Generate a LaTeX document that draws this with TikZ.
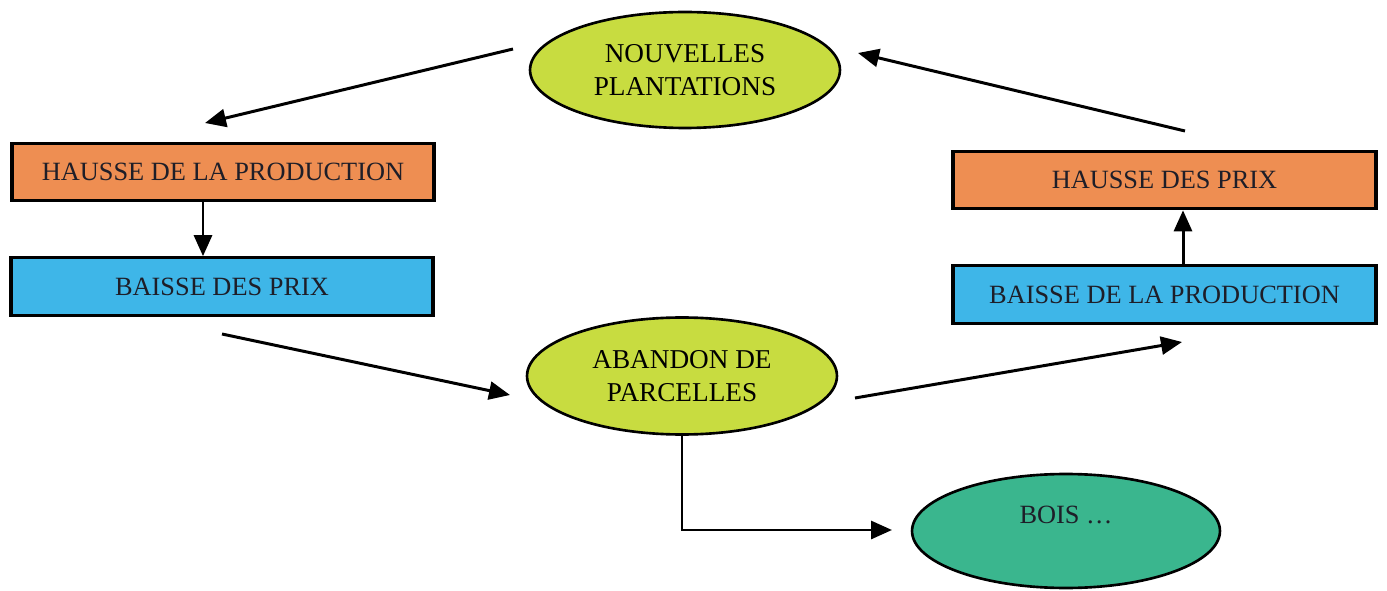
\documentclass[tikz,border=0pt]{standalone}
\usepackage{fontspec}
\setmainfont{Liberation Serif}
\usetikzlibrary{shapes.geometric,arrows.meta}
\definecolor{orangebox}{RGB}{238,142,82}
\definecolor{bluebox}{RGB}{62,182,232}
\definecolor{greenell}{RGB}{200,220,64}
\definecolor{tealell}{RGB}{58,182,142}
\definecolor{inktext}{RGB}{30,30,40}
\tikzset{
  box/.style={draw=black, line width=1.8pt, rectangle, inner sep=0pt,
    minimum width=8.44cm, minimum height=1.15cm, text=inktext,
    font=\fontsize{15}{18}\selectfont},
  ell/.style={draw=black, line width=1.5pt, ellipse, inner sep=0pt,
    minimum width=6.2cm, minimum height=2.32cm, align=center, text=black,
    font=\fontsize{15.5}{19}\selectfont},
  arr/.style={draw=black, line width=1.7pt, -{Triangle[length=0.42cm,width=0.36cm]}},
}
\begin{document}
\begin{tikzpicture}[x=0.02cm,y=-0.02cm]
\useasboundingbox (0,0) rectangle (1387,591);
% boxes
\node[box, fill=orangebox] (H1) at (223,172) {HAUSSE DE LA PRODUCTION};
\node[box, fill=bluebox] (B1) at (222,286.5) {BAISSE DES PRIX};
\node[box, fill=orangebox, minimum width=8.46cm] (H2) at (1164.5,180) {HAUSSE DES PRIX};
\node[box, fill=bluebox, minimum width=8.46cm] (B2) at (1164.5,294.5) {BAISSE DE LA PRODUCTION};
% ellipses
\node[ell, fill=greenell] (E1) at (685,70) {NOUVELLES\\PLANTATIONS};
\node[ell, fill=greenell, minimum height=2.34cm] (E2) at (682,376) {ABANDON DE\\PARCELLES};
\node[ell, fill=tealell, minimum width=6.16cm, minimum height=2.28cm, text=inktext,
      font=\fontsize{15}{18}\selectfont] (E3) at (1066,531) {BOIS \ldots\\[0pt]\phantom{X}};
% free ends
\coordinate (a1s) at (513,49);
\coordinate (a1e) at (205,123);
\coordinate (a2s) at (1185,131);
\coordinate (a2e) at (858,53);
\coordinate (a3s) at (222,334);
\coordinate (a3e) at (510,395);
\coordinate (a4s) at (855,398);
\coordinate (a4e) at (1182,342);
\coordinate (bt) at (892,530);
\coordinate (vL) at (203,0);
\coordinate (vR) at (1183,0);
% connectors
\draw[arr] (a1s) -- (a1e);
\draw[arr] (a2s) -- (a2e);
\draw[arr] (a3s) -- (a3e);
\draw[arr] (a4s) -- (a4e);
\draw[arr] (H1.south -| vL) -- (B1.north -| vL);
\draw[arr] (B2.north -| vR) -- (H2.south -| vR);
\draw[arr] (E2.south) -- (E2.south |- bt) -- (bt);
\end{tikzpicture}
\end{document}
